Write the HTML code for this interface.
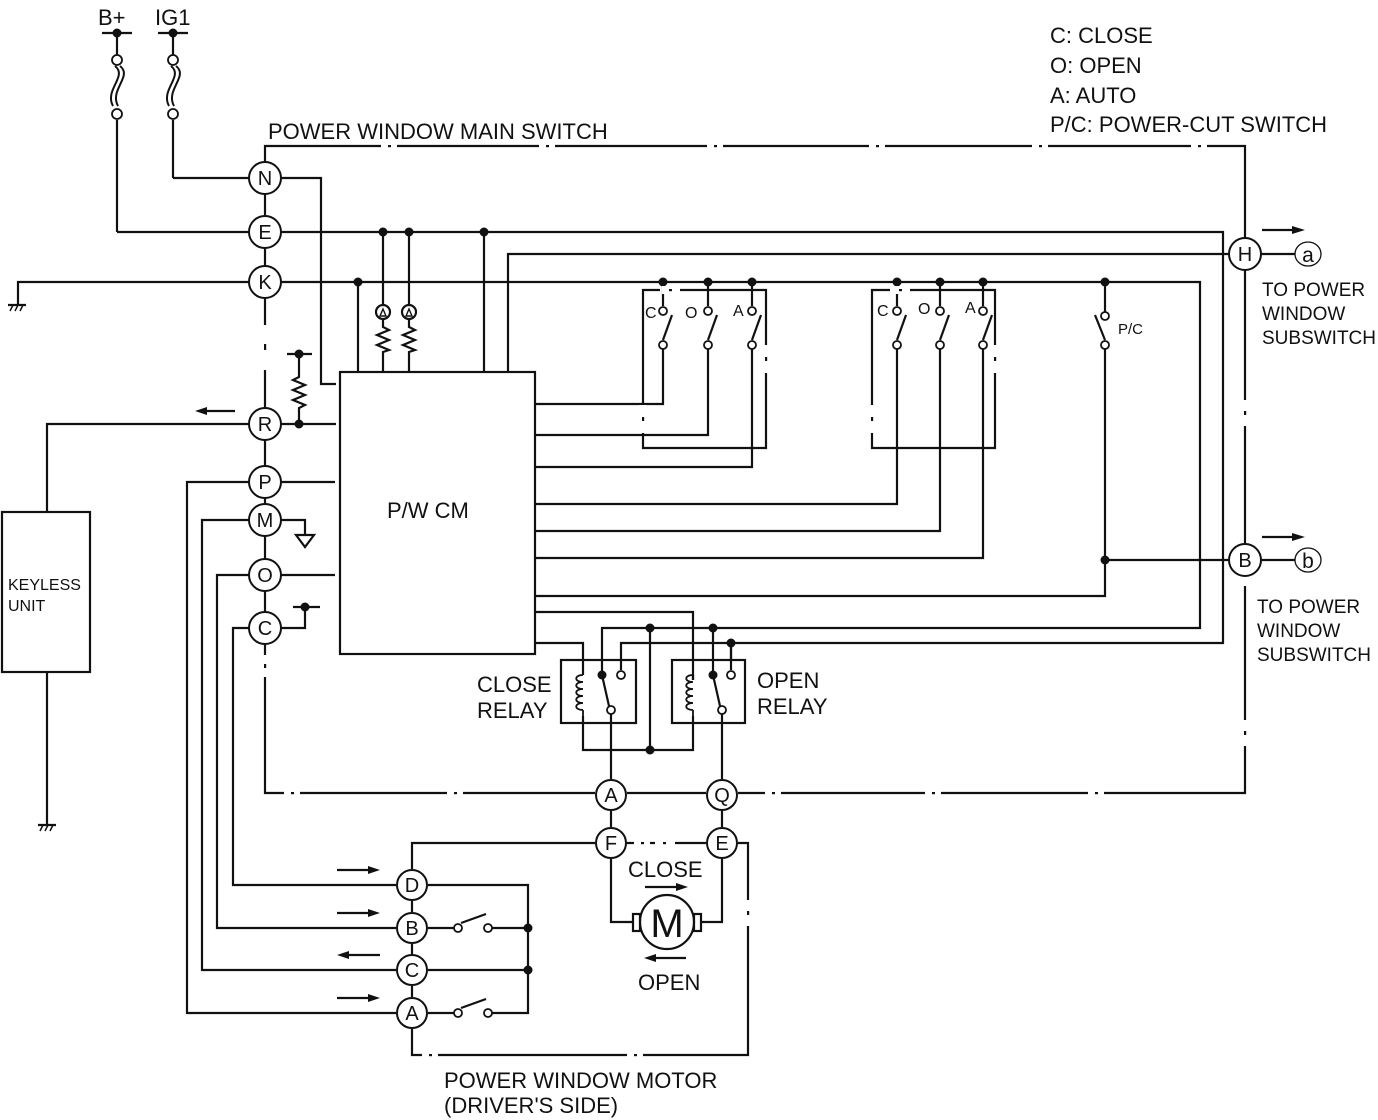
<!DOCTYPE html>
<html><head><meta charset="utf-8"><style>
html,body{margin:0;padding:0;background:#fff}
svg{display:block}
text{font-family:"Liberation Sans",sans-serif;fill:#111}
</style></head><body>
<svg width="1378" height="1120" viewBox="0 0 1378 1120" xmlns="http://www.w3.org/2000/svg">
<g stroke="#111" stroke-width="2.2" fill="none">
<line x1="102" y1="33" x2="132" y2="33"/><line x1="158" y1="33" x2="188" y2="33"/>
<line x1="117" y1="33" x2="117" y2="56"/><line x1="173" y1="33" x2="173" y2="56"/>
<path d="M115 66 C128 76,104 90,113 106 M120 66 C133 76,109 90,118 106" stroke-width="2"/>
<path d="M171 66 C184 76,160 90,169 106 M176 66 C189 76,165 90,174 106" stroke-width="2"/>
<line x1="117" y1="120" x2="117" y2="232"/><line x1="117" y1="232" x2="249" y2="232"/>
<line x1="173" y1="120" x2="173" y2="178"/><line x1="173" y1="178" x2="249" y2="178"/>
<polyline points="265,162 265,146 1245,146 1245,238"/>
<line x1="1245" y1="270" x2="1245" y2="544"/>
<polyline points="1245,576 1245,793 738,793"/>
<line x1="706" y1="793" x2="627" y2="793"/>
<polyline points="595,793 265,793 265,644"/>
<line x1="265" y1="194" x2="265" y2="216"/><line x1="265" y1="248" x2="265" y2="266"/>
<line x1="265" y1="298" x2="265" y2="408"/><line x1="265" y1="440" x2="265" y2="466"/>
<line x1="265" y1="498" x2="265" y2="504"/><line x1="265" y1="536" x2="265" y2="559"/>
<line x1="265" y1="591" x2="265" y2="612"/>
<polyline points="281,178 321,178 321,384 336,384"/>
<polyline points="281,232 1223,232 1223,643 731,643 731,660"/>
<polyline points="249,282 18,282 18,305"/>
<polyline points="281,282 1200,282 1200,628 602,628 602,675"/>
<line x1="8" y1="305" x2="26" y2="305"/>
<path d="M10 311 L13 305 M15 311 L18 305 M20 311 L23 305" stroke-width="1.5"/>
<polyline points="508,372 508,254 1229,254"/><line x1="1261" y1="254" x2="1296" y2="254"/>
<rect x="340" y="372" width="195" height="282"/>
<line x1="358" y1="282" x2="358" y2="372"/>
<line x1="383" y1="232" x2="383" y2="305"/><line x1="409" y1="232" x2="409" y2="305"/>
<line x1="484" y1="232" x2="484" y2="372"/>
<circle cx="383" cy="312" r="7"/><circle cx="409" cy="312" r="7"/>
<path d="M380 316 L383 309 L386 316 Z M406 316 L409 309 L412 316 Z" stroke-width="1.4"/>
<polyline points="383,319 383,327 389,330 377,335 389,340 377,345 389,350 383,352 383,372"/>
<polyline points="409,319 409,327 415,330 403,335 415,340 403,345 415,350 409,352 409,372"/>
<polyline points="249,424 47,424 47,512"/><line x1="281" y1="424" x2="336" y2="424"/>
<polyline points="299,424 299,408 305,405 293,400 305,395 293,390 305,385 293,380 299,377 299,354"/>
<line x1="287" y1="354" x2="312" y2="354"/>
<line x1="205" y1="411" x2="235" y2="411"/>
<rect x="2" y="512" width="88" height="160"/>
<line x1="47" y1="672" x2="47" y2="825"/>
<line x1="38" y1="825" x2="56" y2="825"/>
<path d="M40 831 L43 825 M45 831 L48 825 M50 831 L53 825" stroke-width="1.5"/>
<polyline points="249,482 187,482 187,1013 396,1013"/><line x1="281" y1="482" x2="335" y2="482"/>
<polyline points="249,520 202,520 202,970 396,970"/><polyline points="281,520 305,520 305,535"/>
<path d="M296 535 L314 535 L305 547 Z"/>
<polyline points="249,575 217,575 217,928 396,928"/><line x1="281" y1="575" x2="335" y2="575"/>
<polyline points="249,628 233,628 233,885 396,885"/><polyline points="281,628 305,628 305,607"/>
<line x1="293" y1="607" x2="320" y2="607"/>
<polyline points="535,404 663,404 663,348"/>
<polyline points="535,435 708,435 708,348"/>
<polyline points="535,467 752,467 752,348"/>
<polyline points="535,504 897,504 897,348"/>
<polyline points="535,531 940,531 940,348"/>
<polyline points="535,558 983,558 983,348"/>
<polyline points="535,596 1105,596 1105,348"/>
<line x1="1105" y1="560" x2="1229" y2="560"/><line x1="1261" y1="560" x2="1296" y2="560"/>
<polyline points="535,612 693,612 693,680"/>
<polyline points="535,643 583,643 583,668"/>
<polyline points="660,290 643,290 643,448 766,448 766,290 680,290"/>
<polyline points="890,290 872,290 872,448 995,448 995,290 910,290"/>
<line x1="663" y1="282" x2="663" y2="306"/><line x1="708" y1="282" x2="708" y2="306"/><line x1="752" y1="282" x2="752" y2="306"/>
<line x1="897" y1="282" x2="897" y2="306"/><line x1="940" y1="282" x2="940" y2="306"/><line x1="983" y1="282" x2="983" y2="306"/>
<line x1="1105" y1="282" x2="1105" y2="312"/>
<line x1="663" y1="340" x2="672" y2="315"/><line x1="708" y1="340" x2="717" y2="315"/><line x1="752" y1="340" x2="761" y2="315"/>
<line x1="897" y1="340" x2="906" y2="315"/><line x1="940" y1="340" x2="949" y2="315"/><line x1="983" y1="340" x2="992" y2="315"/>
<line x1="1105" y1="340" x2="1095" y2="315"/>
<rect x="561" y="660" width="75" height="63"/><rect x="672" y="660" width="73" height="63"/>
<path d="M583 668 L583 675 M583 716 L583 750 L693 750 L693 716 M693 680 L693 675"/>
<path d="M583 675 c-9 0 -9 7 0 7 c-9 0 -9 7 0 7 c-9 0 -9 7 0 7 c-9 0 -9 7 0 7 c-9 0 -9 7 0 7 M583 710 L583 716" stroke-width="1.8"/>
<path d="M693 675 c-9 0 -9 7 0 7 c-9 0 -9 7 0 7 c-9 0 -9 7 0 7 c-9 0 -9 7 0 7 c-9 0 -9 7 0 7 M693 710 L693 716" stroke-width="1.8"/>
<line x1="650" y1="628" x2="650" y2="750"/>
<polyline points="621,670 621,643 731,643"/>
<line x1="713" y1="628" x2="713" y2="675"/>
<line x1="731" y1="643" x2="731" y2="670"/>
<line x1="602" y1="675" x2="609" y2="706"/><line x1="713" y1="675" x2="720" y2="706"/>
<line x1="611" y1="714" x2="611" y2="779"/><line x1="722" y1="714" x2="722" y2="779"/>
<line x1="611" y1="811" x2="611" y2="827"/><line x1="722" y1="811" x2="722" y2="827"/>
<polyline points="611,859 611,922 633,922"/><polyline points="722,859 722,922 701,922"/>
<rect x="633" y="914" width="7" height="17"/><rect x="694" y="914" width="7" height="17"/>
<circle cx="667" cy="922" r="27"/>
<polyline points="595,843 412,843 412,869"/><line x1="627" y1="843" x2="706" y2="843"/>
<polyline points="738,843 748,843 748,1055 412,1055 412,1029"/>
<line x1="412" y1="901" x2="412" y2="912"/><line x1="412" y1="944" x2="412" y2="954"/><line x1="412" y1="986" x2="412" y2="997"/>
<polyline points="428,885 528,885 528,1013 488,1013"/>
<line x1="428" y1="928" x2="455" y2="928"/><line x1="491" y1="928" x2="528" y2="928"/>
<line x1="428" y1="970" x2="528" y2="970"/>
<line x1="428" y1="1013" x2="455" y2="1013"/>
<line x1="461" y1="923" x2="486" y2="914"/><line x1="461" y1="1008" x2="486" y2="999"/>
<line x1="337" y1="870" x2="372" y2="870"/><line x1="337" y1="913" x2="372" y2="913"/>
<line x1="345" y1="955" x2="380" y2="955"/><line x1="337" y1="998" x2="372" y2="998"/>
<line x1="645" y1="887" x2="680" y2="887"/><line x1="652" y1="958" x2="686" y2="958"/>
<line x1="1262" y1="230" x2="1295" y2="230"/><line x1="1262" y1="537" x2="1295" y2="537"/>
</g>
<g fill="#111">
<path d="M195 411 L207 407 L207 415 Z"/>
<path d="M380 870 L368 866 L368 874 Z M380 913 L368 909 L368 917 Z M337 955 L349 951 L349 959 Z M380 998 L368 994 L368 1002 Z"/>
<path d="M688 887 L676 883 L676 891 Z M644 958 L656 954 L656 962 Z"/>
<path d="M1305 230 L1292 226 L1292 234 Z M1305 537 L1292 533 L1292 541 Z"/>
<circle cx="117" cy="33" r="4.5"/><circle cx="173" cy="33" r="4.5"/>
<circle cx="383" cy="232" r="4.5"/><circle cx="409" cy="232" r="4.5"/><circle cx="484" cy="232" r="4.5"/>
<circle cx="358" cy="282" r="4.5"/><circle cx="663" cy="282" r="4.5"/><circle cx="708" cy="282" r="4.5"/><circle cx="752" cy="282" r="4.5"/>
<circle cx="897" cy="282" r="4.5"/><circle cx="940" cy="282" r="4.5"/><circle cx="983" cy="282" r="4.5"/><circle cx="1105" cy="282" r="4.5"/>
<circle cx="1105" cy="560" r="4.5"/><circle cx="299" cy="424" r="4.5"/><circle cx="299" cy="354" r="4.5"/><circle cx="305" cy="607" r="4.5"/>
<circle cx="650" cy="628" r="4.5"/><circle cx="713" cy="628" r="4.5"/><circle cx="731" cy="643" r="4.5"/><circle cx="650" cy="750" r="4.5"/>
<circle cx="602" cy="675" r="4.5"/><circle cx="713" cy="675" r="4.5"/>
<circle cx="528" cy="928" r="4.5"/><circle cx="528" cy="970" r="4.5"/>
</g>
<g fill="#fff" stroke="#111" stroke-width="1.8">
<circle cx="117" cy="60" r="5"/><circle cx="117" cy="114" r="5"/><circle cx="173" cy="60" r="5"/><circle cx="173" cy="114" r="5"/>
<circle cx="663" cy="311" r="4"/><circle cx="663" cy="345" r="4"/><circle cx="708" cy="311" r="4"/><circle cx="708" cy="345" r="4"/><circle cx="752" cy="311" r="4"/><circle cx="752" cy="345" r="4"/>
<circle cx="897" cy="311" r="4"/><circle cx="897" cy="345" r="4"/><circle cx="940" cy="311" r="4"/><circle cx="940" cy="345" r="4"/><circle cx="983" cy="311" r="4"/><circle cx="983" cy="345" r="4"/>
<circle cx="1105" cy="316" r="4"/><circle cx="1105" cy="345" r="4"/>
<circle cx="621" cy="675" r="4"/><circle cx="611" cy="710" r="4"/><circle cx="731" cy="675" r="4"/><circle cx="722" cy="710" r="4"/>
<circle cx="458" cy="928" r="4"/><circle cx="488" cy="928" r="4"/><circle cx="458" cy="1013" r="4"/><circle cx="488" cy="1013" r="4"/>
</g>
<g fill="#fff">
<rect x="381" y="142" width="16" height="8"/><rect x="539" y="142" width="16" height="8"/><rect x="707" y="142" width="16" height="8"/><rect x="869" y="142" width="16" height="8"/><rect x="1032" y="142" width="16" height="8"/><rect x="1191" y="142" width="16" height="8"/>
<rect x="284" y="789" width="16" height="8"/><rect x="447" y="789" width="16" height="8"/><rect x="765" y="789" width="16" height="8"/><rect x="925" y="789" width="16" height="8"/><rect x="1088" y="789" width="16" height="8"/>
<rect x="261" y="325" width="8" height="45"/><rect x="261" y="655" width="8" height="22"/>
<rect x="1241" y="400" width="8" height="26"/><rect x="1241" y="576" width="8" height="10"/><rect x="1241" y="720" width="8" height="26"/>
<rect x="662" y="286" width="16" height="8"/><rect x="892" y="286" width="16" height="8"/>
<rect x="762" y="345" width="8" height="28"/><rect x="991" y="345" width="8" height="28"/>
<rect x="639" y="405" width="8" height="28"/><rect x="868" y="405" width="8" height="28"/>
<rect x="634" y="839" width="16" height="8"/><rect x="655" y="839" width="20" height="8"/>
<rect x="744" y="900" width="8" height="26"/>
<rect x="422" y="1051" width="16" height="8"/><rect x="627" y="1051" width="16" height="8"/>
</g>
<g fill="#111">
<rect x="388" y="145" width="3" height="2.2"/><rect x="546" y="145" width="3" height="2.2"/><rect x="714" y="145" width="3" height="2.2"/><rect x="876" y="145" width="3" height="2.2"/><rect x="1039" y="145" width="3" height="2.2"/><rect x="1198" y="145" width="3" height="2.2"/>
<rect x="291" y="792" width="3" height="2.2"/><rect x="454" y="792" width="3" height="2.2"/><rect x="772" y="792" width="3" height="2.2"/><rect x="932" y="792" width="3" height="2.2"/><rect x="1095" y="792" width="3" height="2.2"/>
<rect x="264" y="344" width="2.2" height="6"/><rect x="264" y="664" width="2.2" height="4"/>
<rect x="1244" y="411" width="2.2" height="4"/><rect x="1244" y="731" width="2.2" height="4"/>
<rect x="669" y="289" width="3" height="2.2"/><rect x="899" y="289" width="3" height="2.2"/>
<rect x="765" y="357" width="2.2" height="4"/><rect x="994" y="357" width="2.2" height="4"/>
<rect x="642" y="417" width="2.2" height="4"/><rect x="871" y="417" width="2.2" height="4"/>
<rect x="641" y="842" width="3" height="2.2"/><rect x="663" y="842" width="3" height="2.2"/>
<rect x="747" y="911" width="2.2" height="4"/>
<rect x="429" y="1054" width="3" height="2.2"/><rect x="634" y="1054" width="3" height="2.2"/>
</g>
<g fill="#fff" stroke="#111" stroke-width="2">
<circle cx="265" cy="178" r="16"/><circle cx="265" cy="232" r="16"/><circle cx="265" cy="282" r="16"/>
<circle cx="265" cy="424" r="16"/><circle cx="265" cy="482" r="16"/><circle cx="265" cy="520" r="16"/><circle cx="265" cy="575" r="16"/><circle cx="265" cy="628" r="16"/>
<circle cx="1245" cy="254" r="16"/><circle cx="1245" cy="560" r="16"/>
<circle cx="611" cy="795" r="15"/><circle cx="722" cy="795" r="15"/><circle cx="611" cy="843" r="15"/><circle cx="722" cy="843" r="15"/>
<circle cx="412" cy="885" r="15"/><circle cx="412" cy="928" r="15"/><circle cx="412" cy="970" r="15"/><circle cx="412" cy="1013" r="15"/>
<ellipse cx="1308" cy="254" rx="13" ry="12" stroke-width="1.3"/><ellipse cx="1308" cy="560" rx="13" ry="12" stroke-width="1.3"/>
</g>
<g font-size="20" text-anchor="middle">
<text x="265" y="185">N</text><text x="265" y="239">E</text><text x="265" y="289">K</text><text x="265" y="431">R</text><text x="265" y="489">P</text><text x="265" y="527">M</text><text x="265" y="582">O</text><text x="265" y="635">C</text>
<text x="1245" y="261">H</text><text x="1245" y="567">B</text>
<text x="611" y="802">A</text><text x="722" y="802">Q</text><text x="611" y="850">F</text><text x="722" y="850">E</text>
<text x="412" y="892">D</text><text x="412" y="935">B</text><text x="412" y="977">C</text><text x="412" y="1020">A</text>
<text x="1308" y="262" font-size="21">a</text><text x="1308" y="568" font-size="21">b</text>
<text x="667" y="937" font-size="40">M</text>
</g>
<g font-size="22">
<text x="1050" y="43">C: CLOSE</text><text x="1050" y="73">O: OPEN</text><text x="1050" y="103">A: AUTO</text><text x="1050" y="132">P/C: POWER-CUT SWITCH</text>
<text x="268" y="139">POWER WINDOW MAIN SWITCH</text>
<text x="98" y="25">B+</text><text x="155" y="25">IG1</text>
<text x="387" y="518">P/W CM</text>
<text x="477" y="692">CLOSE</text><text x="477" y="718">RELAY</text>
<text x="757" y="688">OPEN</text><text x="757" y="714">RELAY</text>
<text x="628" y="877">CLOSE</text><text x="638" y="990">OPEN</text>
<text x="444" y="1088">POWER WINDOW MOTOR</text><text x="444" y="1113">(DRIVER'S SIDE)</text>
</g>
<g font-size="19">
<text x="1262" y="296">TO POWER</text><text x="1262" y="320">WINDOW</text><text x="1262" y="344">SUBSWITCH</text>
<text x="1257" y="613">TO POWER</text><text x="1257" y="637">WINDOW</text><text x="1257" y="661">SUBSWITCH</text>
</g>
<g font-size="16">
<text x="8" y="590">KEYLESS</text><text x="8" y="611">UNIT</text>
<text x="645" y="318">C</text><text x="685" y="318">O</text><text x="733" y="316">A</text>
<text x="877" y="316">C</text><text x="918" y="314">O</text><text x="965" y="313">A</text>
<text x="1118" y="334" font-size="15">P/C</text>
</g>
</svg>
</body></html>
